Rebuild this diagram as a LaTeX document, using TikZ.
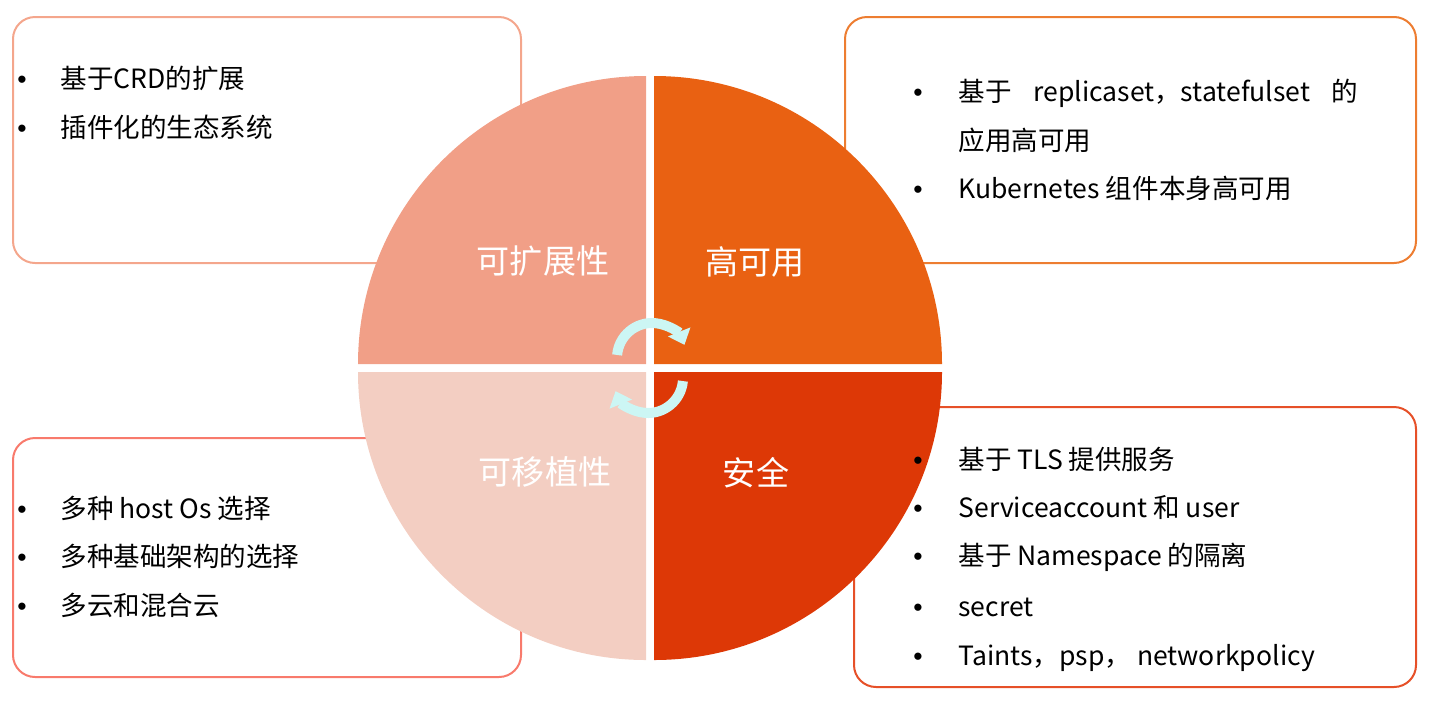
\documentclass[tikz,border=0pt]{standalone}
\usepackage{fontspec}
\setmainfont{Noto Sans CJK SC}
\newfontfamily\dotfamily{Liberation Sans}
\usetikzlibrary{arrows.meta}

\definecolor{qtl}{RGB}{241,159,135}
\definecolor{qtr}{RGB}{233,97,18}
\definecolor{qbr}{RGB}{221,56,6}
\definecolor{qbl}{RGB}{243,206,194}
\definecolor{ltl}{RGB}{244,166,140}
\definecolor{ltr}{RGB}{237,125,49}
\definecolor{lbr}{RGB}{230,80,40}
\definecolor{lbl}{RGB}{248,122,108}
\definecolor{cyc}{RGB}{204,246,244}

\newcommand{\listfont}{\fontsize{19.9pt}{24pt}\selectfont}
\newcommand{\quadfont}{\fontsize{24.8pt}{30pt}\selectfont}

\tikzset{every picture/.style={line width=0.75pt}}
\tikzset{
  frame/.style={line width=1.5pt, rounded corners=16.5pt},
  item/.style={anchor=base west, inner sep=0pt, font=\listfont},
  dot/.style={anchor=base, inner sep=0pt, font=\dotfamily\fontsize{19.9pt}{24pt}\selectfont},
  quadlabel/.style={anchor=base, inner sep=0pt, text=white, font=\quadfont},
  turn/.style={draw=cyc, line width=7.5pt, -{Triangle[width=17.5pt,length=10.5pt]}}
}

\begin{document}
\begin{tikzpicture}[x=0.75pt,y=0.75pt,yscale=-1,xscale=1]
\useasboundingbox (0,0) rectangle (1430,704);

%Rounded Rect [id:tl]
\draw [ltl, frame] (13,17) rectangle (521,263);
%Rounded Rect [id:tr]
\draw [ltr, frame] (845,17) rectangle (1416,263);
%Rounded Rect [id:br]
\draw [lbr, frame] (854,407) rectangle (1416,687);
%Rounded Rect [id:bl]
\draw [lbl, frame] (13,438) rectangle (521,677);

%Shape: Quarter Disc
\fill [qtl] (646,364) -- ++(-288,0) arc [start angle=180, end angle=270, radius=288] -- cycle;
%Shape: Quarter Disc
\fill [qtr] (654,364) -- ++(0,-288) arc [start angle=270, end angle=360, radius=288] -- cycle;
%Shape: Quarter Disc
\fill [qbr] (654,372) -- ++(288,0) arc [start angle=0, end angle=90, radius=288] -- cycle;
%Shape: Quarter Disc
\fill [qbl] (646,372) -- ++(0,288) arc [start angle=90, end angle=180, radius=288] -- cycle;

%Curve Arrows
\draw [turn] (652,358) ++(185:35) arc [start angle=185, end angle=338, radius=35];
\draw [turn] (648,378) ++(5:35) arc [start angle=5, end angle=158, radius=35];

% Text Node
\draw (543,273) node (lscale) [quadlabel] {可扩展性};
% Text Node
\draw (755,274) node (lha) [quadlabel] {高可用};
% Text Node
\draw (545,484) node (lport) [quadlabel] {可移植性};
% Text Node
\draw (756,485) node (lsafe) [quadlabel] {安全};

% Text Node
\draw (22,88) node (d1) [dot] {•};
\draw (60,88) node (t1) [item] {基于CRD的扩展};
\draw (22,137) node (d2) [dot] {•};
\draw (60,137) node (t2) [item] {插件化的生态系统};

% Text Node
\draw (918,101) node (d3) [dot] {•};
\draw (958,101) node (t3) [item] {\makebox[300pt][s]{基于 replicaset，statefulset 的}};
\draw (958,150) node (t4) [item] {应用高可用};
\draw (918,198) node (d5) [dot] {•};
\draw (958,198) node (t5) [item] {Kubernetes 组件本身高可用};

% Text Node
\draw (918,469) node (d6) [dot] {•};
\draw (958,469) node (t6) [item] {基于 TLS 提供服务};
\draw (918,517) node (d7) [dot] {•};
\draw (958,517) node (t7) [item] {Serviceaccount 和 user};
\draw (918,565) node (d8) [dot] {•};
\draw (958,565) node (t8) [item] {基于 Namespace 的隔离};
\draw (918,616) node (d9) [dot] {•};
\draw (958,616) node (t9) [item] {secret};
\draw (918,665) node (d10) [dot] {•};
\draw (958,665) node (t10) [item] {Taints，psp，\ networkpolicy};

% Text Node
\draw (22,518) node (d11) [dot] {•};
\draw (60,518) node (t11) [item] {多种 host Os 选择};
\draw (22,566) node (d12) [dot] {•};
\draw (60,566) node (t12) [item] {多种基础架构的选择};
\draw (22,615) node (d13) [dot] {•};
\draw (60,615) node (t13) [item] {多云和混合云};

\end{tikzpicture}
\end{document}
